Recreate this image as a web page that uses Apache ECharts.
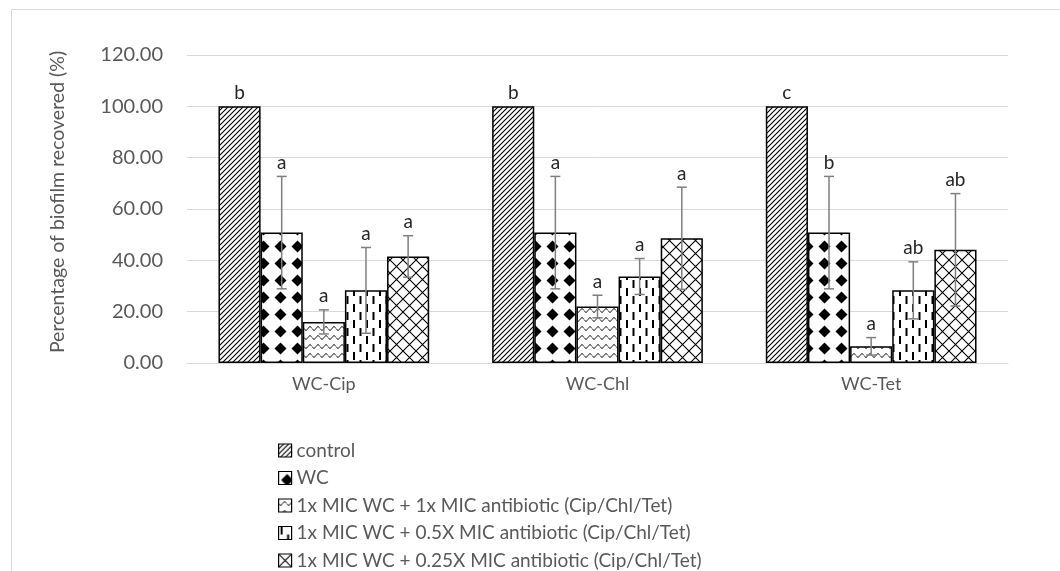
<!DOCTYPE html>
<html><head><meta charset="utf-8">
<script src="https://cdn.jsdelivr.net/npm/echarts@6/dist/echarts.min.js"></script>
<style>html,body{margin:0;padding:0;background:#fff}#c{width:1060px;height:571px}</style>
</head><body><div id="c"></div>
<script>
const categories = ['WC-Cip', 'WC-Chl', 'WC-Tet'];
const seriesNames = ['control', 'WC', '1x MIC WC + 1x MIC antibiotic (Cip/Chl/Tet)', '1x MIC WC + 0.5X MIC antibiotic (Cip/Chl/Tet)', '1x MIC WC + 0.25X MIC antibiotic (Cip/Chl/Tet)'];
const controlVals = [100, 100, 100];
const controlErr = [0, 0, 0];
const wcVals = [50.8, 50.8, 50.8];
const wcErr = [21.9, 21.9, 21.9];
const mic1Vals = [16.0, 22.0, 6.5];
const mic1Err = [4.7, 4.4, 3.4];
const mic05Vals = [28.3, 33.7, 28.3];
const mic05Err = [16.7, 7.0, 11.1];
const mic025Vals = [41.5, 48.6, 44.1];
const mic025Err = [8.1, 19.9, 21.9];
const controlLetters = ['b', 'b', 'c'];
const wcLetters = ['a', 'a', 'b'];
const mic1Letters = ['a', 'a', 'a'];
const mic05Letters = ['a', 'a', 'ab'];
const mic025Letters = ['a', 'a', 'ab'];
const yTicks = [0, 20, 40, 60, 80, 100, 120];

const allVals = [controlVals, wcVals, mic1Vals, mic05Vals, mic025Vals];
const allErr = [controlErr, wcErr, mic1Err, mic05Err, mic025Err];
const allLetters = [controlLetters, wcLetters, mic1Letters, mic05Letters, mic025Letters];

function tile(w, h, draw) {
  const c = document.createElement('canvas');
  c.width = w; c.height = h;
  const ctx = c.getContext('2d');
  ctx.fillStyle = '#fff'; ctx.fillRect(0, 0, w, h);
  ctx.strokeStyle = '#000'; ctx.fillStyle = '#000';
  draw(ctx);
  return c;
}
const patterns = [
  tile(5, 5, ctx => {
    ctx.lineWidth = 1.1;
    ctx.beginPath();
    ctx.moveTo(-1, 6); ctx.lineTo(6, -1);
    ctx.moveTo(-2, 2); ctx.lineTo(2, -2);
    ctx.moveTo(3, 7); ctx.lineTo(7, 3);
    ctx.stroke();
  }),
  tile(17, 17, ctx => {
    ctx.beginPath();
    ctx.moveTo(8.5, 2.5); ctx.lineTo(14.5, 8.5); ctx.lineTo(8.5, 14.5); ctx.lineTo(2.5, 8.5); ctx.closePath();
    ctx.fill();
  }),
  tile(8, 9, ctx => {
    ctx.lineWidth = 1;
    ctx.beginPath();
    for (let x = 0; x <= 8; x += 0.5) {
      const y = 4.5 + 1.8 * Math.sin(2 * Math.PI * x / 8);
      if (x === 0) ctx.moveTo(x, y); else ctx.lineTo(x, y);
    }
    ctx.stroke();
  }),
  tile(13, 16, ctx => {
    ctx.lineWidth = 2;
    ctx.beginPath();
    ctx.moveTo(3, 0); ctx.lineTo(3, 8);
    ctx.moveTo(9.5, 8); ctx.lineTo(9.5, 16);
    ctx.stroke();
  }),
  tile(13, 13, ctx => {
    ctx.lineWidth = 1.1;
    ctx.beginPath();
    ctx.moveTo(0, 0); ctx.lineTo(13, 13);
    ctx.moveTo(13, 0); ctx.lineTo(0, 13);
    ctx.stroke();
  })
];

const FONT = 'Lato';
const GRAY = '#595959';
const GAP = 0.23;

const barSeries = seriesNames.map((name, i) => ({
  name: name,
  type: 'bar',
  data: allVals[i],
  barGap: '0%',
  barCategoryGap: (GAP * 100) + '%',
  itemStyle: { color: { image: patterns[i], repeat: 'repeat' }, borderColor: '#000', borderWidth: 1.5 },
  emphasis: { disabled: true },
  z: 2
}));

const errData = [];
allVals.forEach((vals, si) => vals.forEach((v, ci) => errData.push([ci, si, v, allErr[si][ci]])));

const errSeries = {
  type: 'custom',
  name: 'err',
  z: 5,
  silent: true,
  data: errData,
  renderItem: function (params, api) {
    const ci = api.value(0), si = api.value(1), v = api.value(2), e = api.value(3);
    const band = api.size([1, 0])[0];
    const bw = band * (1 - GAP) / 5;
    const cx = api.coord([ci, 0])[0] + (si - 2) * bw;
    const yv = api.coord([ci, v])[1];
    const yt = api.coord([ci, v + e])[1];
    const yb = api.coord([ci, v - e])[1];
    const st = { stroke: '#7f7f7f', lineWidth: 1.5 };
    const children = [];
    if (e > 0) {
      children.push({ type: 'line', shape: { x1: cx, y1: yt, x2: cx, y2: yb }, style: st });
      children.push({ type: 'line', shape: { x1: cx - 5, y1: yt, x2: cx + 5, y2: yt }, style: st });
      children.push({ type: 'line', shape: { x1: cx - 5, y1: yb, x2: cx + 5, y2: yb }, style: st });
    }
    const letter = allLetters[si][ci];
    children.push({
      type: 'text',
      style: { x: cx, y: Math.min(yv, yt) - 4, text: letter, fill: '#262626', font: '19px ' + FONT, textAlign: 'center', textVerticalAlign: 'bottom' }
    });
    return { type: 'group', children: children };
  }
};

const chart = echarts.init(document.getElementById('c'));
chart.setOption({
  animation: false,
  backgroundColor: '#fff',
  textStyle: { fontFamily: FONT },
  grid: { left: 187, right: 52, top: 55, bottom: 208, containLabel: false },
  graphic: [
    { type: 'rect', shape: { x: 11.5, y: 9.5, width: 1100, height: 700 }, style: { fill: 'none', stroke: '#d9d9d9', lineWidth: 1 }, silent: true },
    { type: 'text', x: 58, y: 202, rotation: Math.PI / 2, style: { text: 'Percentage of biofilm recovered (%)', fill: GRAY, font: '19.5px ' + FONT, textAlign: 'center', textVerticalAlign: 'middle' }, silent: true }
  ],
  legend: {
    data: seriesNames,
    orient: 'vertical',
    left: 278, top: 441,
    padding: 0,
    itemGap: 8.5,
    itemWidth: 13, itemHeight: 13,
    icon: 'rect',
    itemStyle: { borderColor: '#000', borderWidth: 1.2 },
    textStyle: { fontSize: 19, color: GRAY, fontFamily: FONT, padding: [0, 0, 0, 0] },
    selectedMode: false
  },
  xAxis: {
    type: 'category',
    data: categories,
    axisLine: { lineStyle: { color: '#d9d9d9', width: 1 } },
    axisTick: { show: false },
    axisLabel: { color: GRAY, fontSize: 18, margin: 12, fontFamily: FONT }
  },
  yAxis: {
    type: 'value',
    min: yTicks[0], max: yTicks[yTicks.length - 1], interval: 20,
    axisLine: { show: false },
    axisTick: { show: false },
    splitLine: { lineStyle: { color: '#d9d9d9', width: 1 } },
    axisLabel: { color: GRAY, fontSize: 20, margin: 24, fontFamily: FONT, formatter: v => v.toFixed(2) }
  },
  series: barSeries.concat([errSeries])
});
</script>
</body></html>
